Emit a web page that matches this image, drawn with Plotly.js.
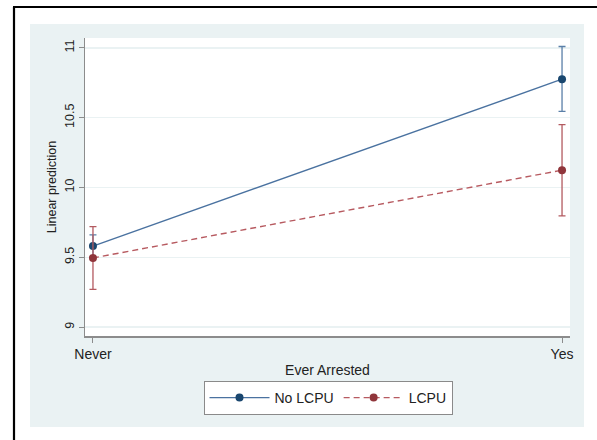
<!DOCTYPE html>
<html>
<head>
<meta charset="utf-8">
<script src="https://cdn.plot.ly/plotly-3.0.1.min.js"></script>
<style>html,body{margin:0;padding:0;background:#fff;}#chart{width:597px;height:440px;}</style>
</head>
<body>
<div id="chart"></div>
<script>
// Data
const categories = ['Never', 'Yes'];
const noLcpuMean = [9.58, 10.776];
const noLcpuLow  = [9.50, 10.545];
const noLcpuHigh = [9.66, 11.01];
const lcpuMean = [9.495, 10.124];
const lcpuLow  = [9.27, 9.797];
const lcpuHigh = [9.72, 10.45];
const yTicks = [9, 9.5, 10, 10.5, 11];
const yTickText = ['9', '9.5', '10', '10.5', '11'];

const xIdx = categories.map((c, i) => i);
const up = (h, m) => h.map((v, i) => v - m[i]);
const dn = (l, m) => m.map((v, i) => v - l[i]);

// pixel geometry helpers
const W = 597, H = 440;
const L = 85, R = 570, T = 38, B = 336;
const px = x => (x - L) / (R - L);
const py = y => (B - y) / (B - T);

const traces = [
  {
    x: xIdx, y: noLcpuMean, name: 'No LCPU', type: 'scatter', mode: 'lines+markers',
    line: {color: '#4a72a0', width: 1.4},
    marker: {color: '#1a476f', size: 8},
    error_y: {type: 'data', array: up(noLcpuHigh, noLcpuMean), arrayminus: dn(noLcpuLow, noLcpuMean),
              color: '#5a7fa8', thickness: 1.3, width: 3.5}
  },
  {
    x: xIdx, y: lcpuMean, name: 'LCPU', type: 'scatter', mode: 'lines+markers',
    line: {color: '#b75a60', width: 1.4, dash: '6px,4px'},
    marker: {color: '#90353b', size: 8},
    error_y: {type: 'data', array: up(lcpuHigh, lcpuMean), arrayminus: dn(lcpuLow, lcpuMean),
              color: '#b35a60', thickness: 1.3, width: 3.5}
  }
];

const layout = {
  width: W, height: H,
  margin: {l: L, r: W - R, t: T, b: H - B, pad: 0},
  paper_bgcolor: '#ffffff',
  plot_bgcolor: 'rgba(0,0,0,0)',
  font: {family: 'Liberation Sans, Arial, sans-serif', size: 14, color: '#222'},
  showlegend: true,
  legend: {
    orientation: 'h', x: px(328), xanchor: 'center', y: py(381), yanchor: 'top',
    bgcolor: '#ffffff', bordercolor: '#8a8a8a', borderwidth: 1,
    font: {size: 14, color: '#222'}, itemwidth: 60, tracegroupgap: 0
  },
  xaxis: {
    type: 'linear', range: [-0.017, 1.017],
    tickmode: 'array', tickvals: xIdx, ticktext: categories,
    showgrid: false, zeroline: false,
    showline: true, linecolor: '#8c8c8c', linewidth: 1.5,
    ticks: 'outside', ticklen: 5, tickcolor: '#8c8c8c', tickwidth: 1,
    tickfont: {size: 14, color: '#222'},
    title: {text: 'Ever Arrested', font: {size: 14, color: '#222'}, standoff: 4}
  },
  yaxis: {
    range: [8.936, 11.071],
    tickmode: 'array', tickvals: yTicks, ticktext: yTickText, tickangle: -90,
    showgrid: true, gridcolor: '#eaf2f3', gridwidth: 1.2, zeroline: false,
    showline: true, linecolor: '#8c8c8c', linewidth: 1.5,
    ticks: 'outside', ticklen: 5, tickcolor: '#8c8c8c', tickwidth: 1,
    tickfont: {size: 12.5, color: '#222'},
    title: {text: 'Linear prediction', font: {size: 12.5, color: '#222'}, standoff: 3}
  },
  shapes: [
    // graph region background
    {type: 'rect', xref: 'paper', yref: 'paper', layer: 'below',
     x0: px(30), x1: px(584), y0: py(427), y1: py(24),
     fillcolor: '#eaf2f3', line: {width: 0}},
    // plot area
    {type: 'rect', xref: 'paper', yref: 'paper', layer: 'below',
     x0: 0, x1: 1, y0: 0, y1: 1,
     fillcolor: '#ffffff', line: {width: 0}},
    // outer black frame (left and top)
    {type: 'line', xref: 'paper', yref: 'paper', x0: px(14), x1: px(14), y0: py(441), y1: py(7),
     line: {color: '#000', width: 2.2}},
    {type: 'line', xref: 'paper', yref: 'paper', x0: px(13), x1: px(598), y0: py(7), y1: py(7),
     line: {color: '#000', width: 2.2}}
  ]
};

Plotly.newPlot('chart', traces, layout, {displayModeBar: false, staticPlot: true});
</script>
</body>
</html>
